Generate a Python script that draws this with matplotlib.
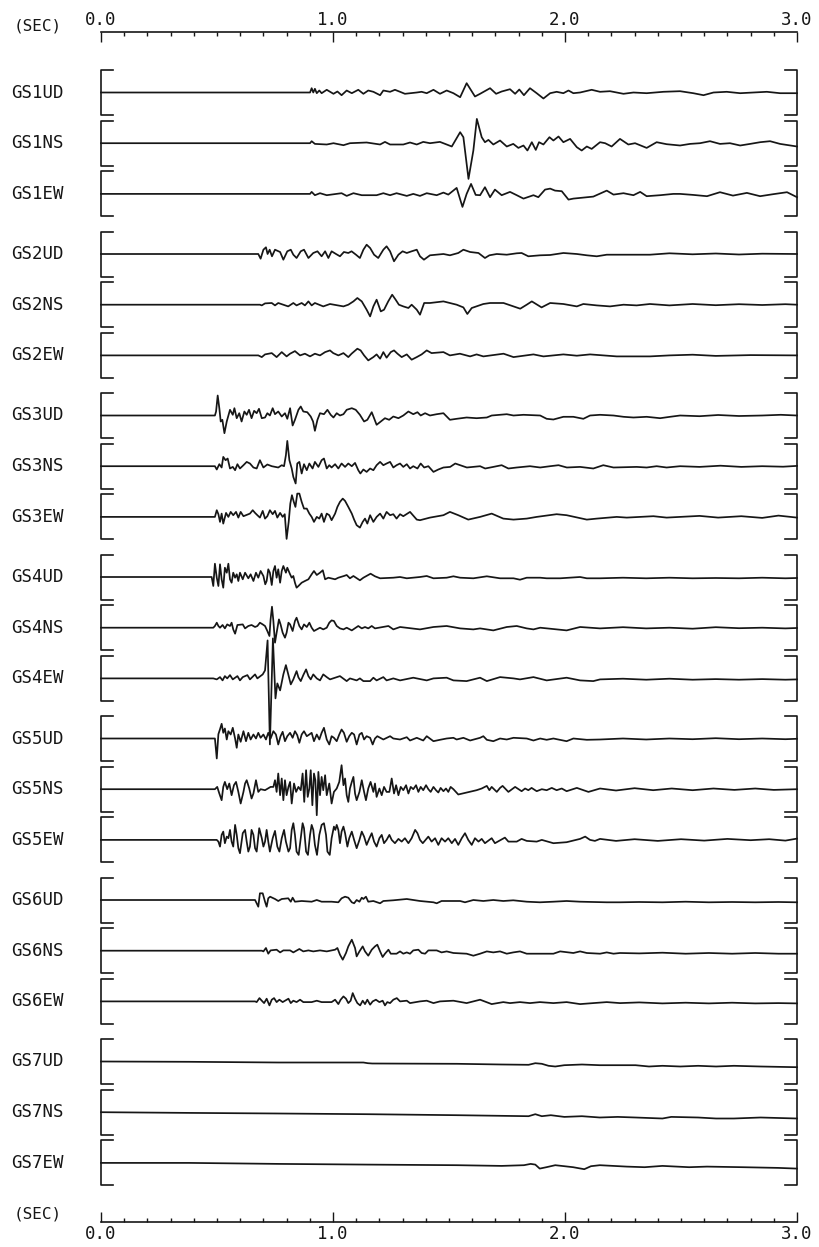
import numpy as np
import matplotlib
matplotlib.use("Agg")
import matplotlib.pyplot as plt
from matplotlib.ticker import MultipleLocator

# -------------------------------------------------
# Waveforms: (time [s], amplitude) picked off the record
# -------------------------------------------------
GS1UD = [(0.0, 0), (0.901, 0), (0.908, 4.3), (0.915, 0), (0.922, 3.7), (0.930, -0.7), (0.941, 2), (0.951, -0.7),
         (0.973, 2.7), (1.002, -1.3), (1.019, 1), (1.037, -2.7), (1.059, 2), (1.081, -0.7), (1.109, 2.7),
         (1.131, -1.3), (1.152, 2), (1.174, 0.7), (1.203, -2.7), (1.217, 2), (1.246, 0.7), (1.267, 2.7),
         (1.289, 0.7), (1.310, -1.3), (1.361, 0), (1.382, 0.7), (1.404, -0.7), (1.433, 2.7), (1.461, -1.3),
         (1.490, 2), (1.519, -0.7), (1.548, -4.7), (1.576, 9.3), (1.612, -4), (1.634, -1.3), (1.677, 4.3),
         (1.703, -1.3), (1.727, 1), (1.763, 3.3), (1.785, -1.3), (1.803, 3), (1.823, -2.7), (1.849, 4.3),
         (1.878, -0.7), (1.907, -6), (1.936, -0.7), (1.964, 0.7), (1.993, -0.7), (2.015, 2), (2.036, -0.7),
         (2.065, 0), (2.115, 2.7), (2.151, 0.7), (2.194, 1.3), (2.252, -1.3), (2.295, 0), (2.352, -0.7),
         (2.424, 0.7), (2.496, 1.3), (2.553, -0.7), (2.597, -2.7), (2.640, 0), (2.697, 0.7), (2.755, -0.7),
         (2.812, 0), (2.870, 0.7), (2.927, -0.7), (3.0, -0.7)]
GS1NS = [(0.0, 0), (0.901, 0), (0.908, 2), (0.922, -0.7), (0.973, -1.3), (1.002, 0), (1.045, -2), (1.073, 0),
         (1.145, 0.7), (1.203, -1.3), (1.224, 1.3), (1.246, -1.3), (1.303, -1.3), (1.332, 0.7), (1.361, -1.3),
         (1.389, 1.3), (1.418, 0), (1.461, 1.3), (1.490, -1.3), (1.512, -3.3), (1.548, 11), (1.562, 6),
         (1.584, -35.7), (1.605, -7.3), (1.620, 24.3), (1.641, 6), (1.655, 1), (1.670, 3.3), (1.691, -1.3),
         (1.720, 2.7), (1.749, -3.3), (1.777, -0.7), (1.799, -4.7), (1.821, -2.3), (1.838, -7.3), (1.857, 1),
         (1.874, -6.7), (1.888, 1), (1.907, -1.3), (1.933, 6), (1.950, 2.7), (1.972, 6.7), (1.993, 1),
         (2.022, 4.3), (2.051, -4), (2.072, -7.3), (2.094, -3.3), (2.115, -5.7), (2.151, 1), (2.173, 0),
         (2.201, -3.3), (2.237, 4.3), (2.273, -1.3), (2.302, 0), (2.352, -4.7), (2.395, 1), (2.438, -1),
         (2.496, -2.3), (2.539, -0.7), (2.582, 0), (2.625, 2), (2.668, -0.7), (2.711, 0), (2.755, -2.3),
         (2.798, -0.7), (2.841, 1), (2.884, 2), (2.927, -0.7), (3.0, -3.3)]
GS1EW = [(0.0, 0), (0.901, 0), (0.908, 2), (0.922, -1.3), (0.944, 0.7), (0.973, -1.3), (1.037, 0.7), (1.059, -2),
         (1.088, 0.7), (1.124, -1.3), (1.188, -1.3), (1.217, 0.7), (1.246, -1.3), (1.274, 0.7), (1.318, -2),
         (1.346, 0), (1.375, -2), (1.404, 0.7), (1.447, -1.3), (1.476, 1.3), (1.497, -0.7), (1.533, 6),
         (1.558, -13), (1.576, 0), (1.595, 10), (1.615, -1), (1.634, -1.3), (1.655, 6.7), (1.677, -3.3),
         (1.698, 4.3), (1.727, -1.3), (1.763, 2), (1.792, -1.3), (1.821, -4.7), (1.864, -1.3), (1.885, -3.3),
         (1.914, 4.3), (1.936, 5.3), (1.957, 3.3), (1.986, 2.7), (2.015, -5.7), (2.036, -4.7), (2.122, -2.7),
         (2.180, 3.3), (2.209, -0.7), (2.252, 0.7), (2.295, -1.3), (2.324, 2), (2.352, -2.3), (2.410, -1.3),
         (2.467, 0), (2.496, 0), (2.552, -1), (2.612, -2.3), (2.668, 1.7), (2.724, -1.7), (2.784, 1),
         (2.841, -2.3), (2.897, -0.3), (2.957, 1.7), (3.0, -3.3)]

GS2UD = [(0.0, 0), (0.678, 0), (0.688, -4.7), (0.700, 4.3), (0.711, 6.7), (0.718, 0), (0.727, 4.3), (0.737, -2.3),
         (0.750, 4.3), (0.772, 2), (0.786, -5.7), (0.803, 2.7), (0.818, 4.3), (0.829, -0.7), (0.843, -4),
         (0.861, 2.7), (0.875, 4.3), (0.894, -4), (0.915, 1), (0.933, 2.7), (0.951, -2.3), (0.966, 2.7),
         (0.980, -4), (0.994, 2.7), (1.013, 0), (1.030, -2.3), (1.047, 2), (1.066, 1), (1.080, 2.7),
         (1.099, -0.7), (1.116, -4), (1.131, 4.3), (1.145, 9.3), (1.160, 6), (1.177, -0.7), (1.195, -4),
         (1.217, 4.3), (1.231, 7.7), (1.246, 2.7), (1.263, -7.3), (1.282, -0.7), (1.300, 2.7), (1.318, 1),
         (1.339, 2.7), (1.361, 4.3), (1.375, -2.3), (1.392, -5.7), (1.418, -1.3), (1.476, 0), (1.504, -1.3),
         (1.540, 1), (1.562, 4.3), (1.591, 2), (1.627, 1), (1.655, -4), (1.674, -1.3), (1.706, 0),
         (1.749, -0.7), (1.792, 0.7), (1.813, 1), (1.842, -2.3), (1.893, -1.3), (1.936, -1), (1.993, 1),
         (2.051, 0), (2.094, -1.3), (2.137, -2.3), (2.180, -0.7), (2.281, -0.7), (2.366, -0.7), (2.45, 0.7),
         (2.55, -0.3), (2.65, 0.5), (2.75, -0.5), (2.85, 0.3), (3.0, 0)]
GS2NS = [(0.0, 0), (0.685, 0), (0.693, -0.7), (0.707, 1.3), (0.736, 1.7), (0.750, -0.7), (0.764, 1.7),
         (0.807, -1.7), (0.829, 1.7), (0.843, -0.7), (0.865, 1.7), (0.879, -0.7), (0.894, 3.3), (0.908, -0.7),
         (0.922, 1.7), (0.958, -1.7), (0.987, 0.7), (1.045, -1.7), (1.066, 0), (1.088, 3.3), (1.105, 6.7),
         (1.124, 3.3), (1.145, -5), (1.160, -11.7), (1.174, -1.7), (1.188, 5), (1.206, -6.7), (1.220, -5),
         (1.238, 3.3), (1.255, 10), (1.270, 5), (1.284, 0), (1.303, -1.7), (1.325, -3.3), (1.339, 0),
         (1.361, -5), (1.375, -10), (1.393, 1.7), (1.418, 1.7), (1.476, 3.3), (1.533, 0), (1.562, -2.7),
         (1.579, -9.3), (1.598, -3.3), (1.648, 0.7), (1.677, 1.7), (1.735, 1.7), (1.778, -1.7), (1.807, -4),
         (1.835, 0), (1.857, 3.3), (1.899, -2.7), (1.936, 1.7), (1.993, 0.7), (2.051, -1.7), (2.079, 0.7),
         (2.137, -0.7), (2.194, -1.7), (2.252, 0), (2.309, -0.7), (2.366, 0.7), (2.45, -0.7), (2.55, 0.7),
         (2.65, -0.5), (2.75, 0.5), (2.85, -0.3), (2.95, 0.5), (3.0, 0)]
GS2EW = [(0.0, 0), (0.678, 0), (0.693, -1.7), (0.707, 1), (0.736, 2.3), (0.757, -1.7), (0.779, 3.3), (0.800, -1),
         (0.815, 1.7), (0.836, 4.3), (0.858, 0), (0.879, 1.7), (0.901, -1), (0.922, 1.7), (0.944, 0),
         (0.966, 3.3), (0.987, 5), (1.001, 2.3), (1.023, 0), (1.045, 2.3), (1.066, -1.7), (1.080, 1.7),
         (1.105, 6.7), (1.119, 5), (1.134, 0), (1.152, -5), (1.174, -1.7), (1.188, 1), (1.203, -3.3),
         (1.217, 3.3), (1.231, -2.3), (1.249, 3.3), (1.263, 5), (1.278, 1.7), (1.296, -1.7), (1.318, 1),
         (1.339, -4.3), (1.361, -1.7), (1.382, 1), (1.404, 5), (1.425, 2.3), (1.476, 3.3), (1.504, 0),
         (1.547, 1.7), (1.591, -1), (1.619, 1), (1.648, -1), (1.735, 1.7), (1.778, -1.7), (1.864, 1),
         (1.907, -1), (1.993, 1), (2.051, -0.3), (2.108, 1), (2.223, -1), (2.366, -1), (2.45, 0), (2.55, 0.7),
         (2.65, -0.5), (2.8, 0.3), (3.0, 0)]

GS3UD = [(0.0, 0), (0.491, 0), (0.496, 4), (0.503, 20), (0.510, 7.3), (0.516, -6), (0.523, -4.3), (0.532, -17.7),
         (0.542, -6), (0.556, 5.7), (0.568, 0.7), (0.575, 7.3), (0.585, -2.7), (0.596, 2.3), (0.606, -6),
         (0.618, 4), (0.628, 0.7), (0.638, 5.7), (0.649, -2.7), (0.660, 4.7), (0.671, 2.3), (0.681, 6.7),
         (0.693, -2.7), (0.707, -2), (0.717, 2.3), (0.728, 0), (0.740, 7.3), (0.750, 1.3), (0.764, 4),
         (0.779, -1), (0.793, 2.3), (0.803, -3.3), (0.815, 7.3), (0.826, -10), (0.836, -4.3), (0.851, 5.7),
         (0.861, 9), (0.872, 4), (0.889, 3.3), (0.904, -1), (0.914, -6), (0.922, -15.3), (0.933, -4.3),
         (0.944, 2.3), (0.961, 1.3), (0.976, 5.7), (0.990, 0.7), (1.002, -2), (1.016, 2.3), (1.030, 0),
         (1.045, 1.3), (1.059, 5.7), (1.081, 7.3), (1.098, 5.7), (1.116, 0.7), (1.134, -6), (1.148, -4.3),
         (1.167, 3.3), (1.188, -9.3), (1.206, -6), (1.224, -2.7), (1.242, -4.3), (1.260, -1), (1.282, -2.7),
         (1.303, 0), (1.325, 4), (1.346, 1.3), (1.364, 3.3), (1.378, 0), (1.397, 2.3), (1.418, 0),
         (1.447, 1.3), (1.476, 2.3), (1.504, -4.3), (1.533, -3.3), (1.576, -2), (1.619, -2.7), (1.663, -2),
         (1.684, 0), (1.749, 1.3), (1.778, 0), (1.821, 0.7), (1.893, 0), (1.921, -3.3), (1.950, -4),
         (1.993, -1.3), (2.036, -1.3), (2.079, -3.3), (2.108, 0), (2.151, 0.7), (2.209, 0), (2.252, -1.3),
         (2.295, -2), (2.352, -1.3), (2.410, -2.7), (2.453, -1.3), (2.496, 0), (2.58, -0.7), (2.66, 0.5),
         (2.75, -0.5), (2.85, 0), (2.93, 0.7), (3.0, 0)]
GS3NS = [(0.0, 0), (0.491, 0), (0.499, -3.3), (0.510, 2), (0.520, -1.3), (0.527, 9.3), (0.537, 6), (0.546, 7.7),
         (0.556, -2.3), (0.568, -0.7), (0.578, -4), (0.588, 2), (0.599, -2.3), (0.614, 1), (0.628, 4.3),
         (0.642, 2.7), (0.657, -1.3), (0.671, -2.3), (0.685, 6), (0.700, -1.3), (0.717, 1.7), (0.736, 0),
         (0.764, -1.3), (0.779, 1), (0.789, 0), (0.797, 11), (0.803, 25.3), (0.812, 6), (0.822, -2.3),
         (0.829, -10.7), (0.839, -17.3), (0.846, 2.7), (0.855, 4.3), (0.865, -7.3), (0.875, 2), (0.887, -4),
         (0.898, 2.7), (0.912, -2.3), (0.922, 4.3), (0.937, -0.7), (0.951, 6), (0.961, 7.7), (0.973, -2.3),
         (0.984, 1), (0.994, -1.3), (1.009, 2), (1.023, -2.3), (1.037, 2.7), (1.052, -0.7), (1.066, 2.7),
         (1.081, 0), (1.095, 3.3), (1.109, -4), (1.118, -7.3), (1.131, -3.3), (1.145, -5.7), (1.160, -2.3),
         (1.174, -4), (1.188, 1), (1.203, 4.3), (1.217, 1), (1.231, 2.7), (1.246, 4.3), (1.260, -1.3),
         (1.274, 1), (1.289, 2.7), (1.303, -0.7), (1.318, 2), (1.332, -2.3), (1.346, 0), (1.364, -2.3),
         (1.378, 2.7), (1.393, -1.3), (1.411, 0), (1.433, -5.7), (1.454, -3.3), (1.476, -1.3), (1.505, -0.7),
         (1.527, 2.7), (1.548, 1), (1.577, -1.3), (1.634, 0), (1.656, -2.3), (1.691, -0.7), (1.727, 1),
         (1.756, -2.3), (1.792, -1.3), (1.849, 0), (1.893, -1.3), (1.936, 0), (1.972, 1), (2.008, -1.3),
         (2.065, -0.7), (2.122, -2.3), (2.165, 1), (2.209, -1.3), (2.309, -0.7), (2.352, -1.3), (2.395, 0),
         (2.438, -1.3), (2.496, 0), (2.58, -0.7), (2.67, 0.5), (2.76, -0.7), (2.85, 0), (2.94, -0.5), (3.0, 0.3)]
GS3EW = [(0.0, 0), (0.491, 0), (0.499, 6.7), (0.506, 2.7), (0.513, -5), (0.520, 3.3), (0.527, -6.7), (0.539, 4),
         (0.549, 0), (0.559, 5), (0.570, 1.7), (0.582, 5), (0.592, -0.7), (0.602, 5), (0.614, 0.7), (0.642, 3.3),
         (0.654, 6.7), (0.664, 4), (0.674, 1.7), (0.685, -0.7), (0.697, 6), (0.707, -1.7), (0.717, 0.7),
         (0.728, 6.7), (0.740, 2.7), (0.750, 6), (0.760, -0.7), (0.772, 4), (0.783, 0), (0.792, 2.7),
         (0.800, -22), (0.809, -5), (0.816, 13.3), (0.823, 21.7), (0.831, 15), (0.838, 10), (0.846, 23.3),
         (0.855, 23.3), (0.865, 15), (0.875, 8.3), (0.887, 8.3), (0.898, 3.3), (0.908, 0), (0.918, -5),
         (0.930, 0), (0.941, -1.7), (0.951, 3.3), (0.961, -5), (0.973, 3.3), (0.984, 1.7), (0.994, -3.3),
         (1.009, 3.3), (1.019, 10), (1.030, 15), (1.042, 18.3), (1.052, 16), (1.066, 10), (1.081, 3.3),
         (1.091, -2.7), (1.102, -8.3), (1.116, -10.7), (1.128, -5), (1.138, -1.7), (1.148, -6.7), (1.160, 1.7),
         (1.174, -5), (1.188, 0), (1.203, 3.3), (1.217, -1.7), (1.231, 5), (1.246, 1.7), (1.260, 2.7),
         (1.274, -1.7), (1.289, 2.7), (1.303, 0.7), (1.332, 5), (1.361, -2.7), (1.375, -3.3), (1.418, -0.7),
         (1.476, 1.7), (1.504, 5), (1.540, 1.7), (1.583, -2.7), (1.634, 0), (1.684, 3.3), (1.734, -1.7),
         (1.778, -2.7), (1.835, -1.7), (1.878, 0), (1.964, 2.7), (2.007, 1.7), (2.094, -2.7), (2.137, -1.7),
         (2.223, 0), (2.266, -0.7), (2.381, 0.7), (2.438, -0.7), (2.496, 0), (2.58, 1), (2.66, -0.7),
         (2.76, 0.7), (2.85, -1), (2.92, 1.3), (3.0, -0.7)]

GS4UD = [(0.0, 0), (0.477, 0), (0.484, -9), (0.491, 13.3), (0.499, -0.7), (0.506, -9), (0.513, 12.7),
         (0.520, -2.3), (0.527, -10.7), (0.534, 9.3), (0.542, 4.3), (0.549, 13.3), (0.556, -2.3), (0.563, -5.7),
         (0.570, 4.3), (0.578, -0.7), (0.585, 2.7), (0.592, -4), (0.599, 4.3), (0.611, -2.3), (0.621, 4.3),
         (0.635, -1.3), (0.645, 2.7), (0.657, -4), (0.668, 4.3), (0.678, -0.7), (0.688, 6), (0.700, 1),
         (0.708, -7.3), (0.714, -4), (0.721, 7.7), (0.728, 4.3), (0.736, -8), (0.743, 6), (0.750, 11),
         (0.757, -0.7), (0.764, 7.7), (0.772, -5.7), (0.779, 6), (0.786, 11), (0.797, 4.3), (0.803, 9.3),
         (0.815, 2.7), (0.822, -0.7), (0.829, 1), (0.836, -5.7), (0.843, -10.7), (0.851, -9), (0.865, -5.7),
         (0.879, -4), (0.894, -2.3), (0.908, 2.7), (0.918, 6), (0.930, 2), (0.944, 4.3), (0.956, 6.7),
         (0.966, -2.3), (0.980, -0.7), (1.009, -2.3), (1.023, -0.7), (1.047, 1), (1.059, 2), (1.073, -1.3),
         (1.088, 1), (1.116, -3.3), (1.131, -0.7), (1.162, 3.3), (1.181, 0.7), (1.203, -1.3), (1.260, -0.7),
         (1.289, 0), (1.318, -1.3), (1.375, 0), (1.404, 1), (1.433, -1.3), (1.490, -0.7), (1.519, 0.7),
         (1.548, -0.7), (1.605, -1.3), (1.663, 0.7), (1.720, -1.3), (1.778, -1.3), (1.806, -2.7), (1.835, -0.7),
         (1.893, -0.7), (1.921, -1.3), (1.979, -1.3), (2.065, 0), (2.094, -1.3), (2.151, -1.3), (2.25, -0.7),
         (2.35, -1.3), (2.45, -0.7), (2.55, -1.3), (2.65, -1), (2.75, -1.3), (2.85, -0.7), (2.95, -1.3),
         (3.0, -1)]
GS4NS = [(0.0, 0), (0.484, 0), (0.491, 1.7), (0.499, 5), (0.506, 1.7), (0.513, 0), (0.524, 2.7), (0.534, -0.7),
         (0.544, 3.3), (0.556, 1.7), (0.563, 5), (0.570, -1.7), (0.578, -6), (0.588, 2.7), (0.611, 3.3),
         (0.621, -0.7), (0.635, 1.7), (0.649, 2.7), (0.664, 0.7), (0.674, 1.7), (0.685, 5), (0.697, 3.3),
         (0.707, 1.7), (0.717, -3.3), (0.726, -8.3), (0.731, 8.3), (0.737, 21), (0.743, 6.7), (0.750, -15),
         (0.757, -5), (0.767, 8.3), (0.774, 3.3), (0.783, -5), (0.793, -10), (0.800, -5), (0.808, 5),
         (0.815, 3.3), (0.826, -3.3), (0.836, 6.7), (0.843, 10), (0.855, 1.7), (0.865, -1.7), (0.875, 3.3),
         (0.887, 0.7), (0.898, 5), (0.908, 0), (0.918, -3.3), (0.944, 0), (0.958, -1.7), (0.973, 0),
         (0.984, 5), (0.994, 7.3), (1.004, 6.7), (1.016, 1.7), (1.030, -0.7), (1.045, -1.7), (1.059, 0),
         (1.081, -2.7), (1.109, 1.7), (1.124, -0.7), (1.138, 0.7), (1.152, -0.7), (1.167, 1.7), (1.181, -0.7),
         (1.239, 1.7), (1.260, -1.7), (1.289, 0.7), (1.375, -1.7), (1.433, 0.7), (1.490, 1.7), (1.548, -0.7),
         (1.605, -1.7), (1.634, -0.7), (1.691, -2.7), (1.749, 0.7), (1.792, 1.7), (1.835, -0.7), (1.864, -1.7),
         (1.893, 0), (2.007, -2.7), (2.065, 0.7), (2.151, -0.7), (2.25, 0.5), (2.35, -0.7), (2.45, 0),
         (2.55, -1), (2.65, 0.5), (2.75, -0.5), (2.85, 0), (2.95, -0.7), (3.0, -0.3)]
GS4EW = [(0.0, 0), (0.484, 0), (0.499, -1), (0.513, 1.3), (0.524, -2), (0.534, 2.3), (0.544, 0), (0.556, 3.3),
         (0.568, -1), (0.588, 2.3), (0.599, -2), (0.611, 1.3), (0.631, 3.3), (0.642, -1), (0.664, 4),
         (0.674, 0), (0.697, 4), (0.707, 8), (0.718, 38), (0.728, -66), (0.741, 40), (0.752, -20),
         (0.760, -5), (0.772, -12), (0.786, 4), (0.797, 13.3), (0.808, 3.3), (0.818, -6), (0.829, -1),
         (0.843, 7.3), (0.851, 1), (0.861, -2.7), (0.872, 3.3), (0.884, 9), (0.894, 2.3), (0.904, -1),
         (0.915, 4), (0.930, 0), (0.944, -2), (0.958, 4), (0.973, 1.3), (0.987, -1), (1.030, 2.3),
         (1.059, -2.7), (1.073, 0), (1.102, -2), (1.116, 0), (1.131, -2.7), (1.160, -2.7), (1.174, 0.7),
         (1.188, -2), (1.217, 1.3), (1.231, -2), (1.260, 0), (1.289, -2), (1.346, 0.7), (1.404, -2),
         (1.433, 0), (1.490, 0.7), (1.519, -2), (1.576, -2.7), (1.634, 0.7), (1.663, -2.7), (1.720, 1.3),
         (1.778, 0), (1.806, -1), (1.864, 1.3), (1.921, -2), (2.007, 0.7), (2.065, -2), (2.122, -2.7),
         (2.151, -1), (2.25, -0.3), (2.35, -1.3), (2.45, -0.3), (2.55, -1.3), (2.65, -0.7), (2.75, -1.3),
         (2.85, -0.7), (2.95, -1.3), (3.0, -1)]

GS5UD = [(0.0, 0), (0.491, 0), (0.499, -20), (0.506, 4.3), (0.513, 9.3), (0.520, 14.7), (0.527, 5.7),
         (0.534, 10), (0.542, -1), (0.549, 7.3), (0.559, 4), (0.568, 10.7), (0.578, 0), (0.585, -9.3),
         (0.592, 4), (0.602, -3.3), (0.614, 7.3), (0.625, -2.7), (0.635, 5.7), (0.645, -1), (0.657, 4),
         (0.668, 0), (0.678, 5.7), (0.688, 0.7), (0.700, 4), (0.711, -1), (0.721, 5.7), (0.731, 0),
         (0.743, 7.3), (0.754, 4), (0.764, -6), (0.774, 2.3), (0.783, 6.7), (0.793, -2.7), (0.803, 2.3),
         (0.815, 5.7), (0.826, 0.7), (0.836, 7.3), (0.846, 3.3), (0.855, -4.3), (0.865, 4), (0.875, 7.3),
         (0.887, 2.3), (0.898, 4), (0.908, 5.7), (0.918, -2.7), (0.930, 4), (0.941, -1), (0.951, 5.7),
         (0.961, 10.7), (0.973, -1), (0.984, -6), (0.994, 2.3), (1.004, 0.7), (1.016, -2.7), (1.027, 4),
         (1.037, 9), (1.047, 5.7), (1.059, -3.3), (1.070, 2.3), (1.081, 5.7), (1.091, 4), (1.102, -6),
         (1.114, 4), (1.124, 5.7), (1.134, -1), (1.145, 2.3), (1.160, 0.7), (1.171, -6), (1.181, 0),
         (1.191, 2.3), (1.217, -1), (1.246, 2.3), (1.260, 0), (1.289, -1), (1.318, 1.3), (1.332, -2),
         (1.361, 0.7), (1.389, -2), (1.404, 2.3), (1.433, -2.7), (1.461, -1.3), (1.490, 0), (1.519, 0.7),
         (1.533, -1), (1.562, 0.7), (1.591, -2), (1.634, 0.7), (1.648, 2.3), (1.663, -1.3), (1.691, -2.7),
         (1.720, 0), (1.749, -1), (1.778, 0.7), (1.835, 0), (1.864, -2), (1.893, 0), (1.921, -1.3),
         (1.950, 0), (2.007, -2.7), (2.036, 0), (2.094, -1.3), (2.151, -1), (2.25, 0), (2.35, -1), (2.45, 0),
         (2.55, -0.7), (2.65, 0.3), (2.75, -0.7), (2.85, 0), (2.95, -0.7), (3.0, -0.3)]
GS5NS = [(0.0, 0), (0.491, 0), (0.501, 2.3), (0.510, -4.3), (0.520, -11), (0.527, 2.3), (0.534, 7.3), (0.544, 0),
         (0.553, 5.7), (0.563, -6), (0.573, 4), (0.582, 7.3), (0.592, -2.7), (0.602, -14.3), (0.614, -2.7),
         (0.621, 5.7), (0.628, 9), (0.639, 0.7), (0.649, -9.3), (0.657, -4.3), (0.668, 9), (0.678, -2.7),
         (0.688, 0), (0.707, -1), (0.731, 2.3), (0.743, 2.3), (0.750, 9), (0.757, -2.7), (0.764, 15.7),
         (0.772, -6), (0.779, 10.7), (0.786, -11), (0.793, 9), (0.800, -6), (0.808, 2.3), (0.815, 7.3),
         (0.822, -14.3), (0.832, 5.7), (0.841, -2.7), (0.851, 2.3), (0.861, -1), (0.869, 15.7), (0.876, -12.7),
         (0.884, 19), (0.891, -7.7), (0.898, 0.7), (0.904, 19), (0.911, -16), (0.918, 15.7), (0.924, 9),
         (0.930, -26), (0.937, 17.3), (0.944, -6), (0.951, 12.3), (0.958, -1), (0.966, 14), (0.973, -6),
         (0.984, 5.7), (0.994, -14.3), (1.004, -2.7), (1.016, 0.7), (1.027, 7.3), (1.037, 24), (1.045, 4),
         (1.052, 10.7), (1.059, -6), (1.066, -12.7), (1.073, 0.7), (1.081, 7.3), (1.088, 12.3), (1.095, -4.3),
         (1.102, -11), (1.114, -2.7), (1.124, 9), (1.134, -2.7), (1.142, -11), (1.152, 0.7), (1.162, 7.3),
         (1.174, -2.7), (1.181, 5.7), (1.188, -7.7), (1.200, 0.7), (1.210, -6), (1.220, 2.3), (1.231, -2.7),
         (1.243, -2.7), (1.253, 10.7), (1.263, -4.3), (1.272, 4), (1.282, -6), (1.292, 2.3), (1.303, -1),
         (1.315, 4), (1.325, -4.3), (1.335, 2.3), (1.346, 0), (1.358, 4), (1.368, -2.7), (1.378, 2.3),
         (1.389, -1), (1.401, 4), (1.411, 0), (1.421, -2.7), (1.433, 2.3), (1.444, -1), (1.454, -3.3),
         (1.464, 1.3), (1.476, -2), (1.487, 0.7), (1.497, -2.7), (1.507, 2.3), (1.519, 0), (1.540, -5.3),
         (1.576, -3.3), (1.619, -1), (1.641, 0.7), (1.663, 3.3), (1.674, -1), (1.684, 2.3), (1.706, -2.7),
         (1.720, 1.3), (1.731, 3.3), (1.756, -2.7), (1.785, 2.3), (1.813, -2), (1.828, 0.7), (1.842, -1),
         (1.856, 1.3), (1.878, -2), (1.900, 0), (1.921, -1), (1.943, 1.3), (1.964, -1), (1.986, 0.7),
         (2.007, -2), (2.051, 1.3), (2.101, -2.7), (2.151, 0.7), (2.22, -1.3), (2.30, 1), (2.38, -1),
         (2.46, 0.7), (2.55, -1), (2.64, 0.7), (2.73, -0.7), (2.82, 0.7), (2.90, -0.7), (3.0, 0)]
GS5EW = [(0.0, 0), (0.499, 0), (0.506, -1.7), (0.513, -6.7), (0.520, 5), (0.527, 8.3), (0.534, -3.3),
         (0.542, 3.3), (0.549, 1.7), (0.556, 10), (0.563, -1.7), (0.570, -6.7), (0.578, 15), (0.585, 5),
         (0.592, -8.3), (0.599, -13.3), (0.611, 6.7), (0.621, 10), (0.628, -1.7), (0.635, -11.7), (0.642, -6.7),
         (0.649, 10), (0.657, 5), (0.664, -8.3), (0.671, -11.7), (0.682, 11.7), (0.693, 1.7), (0.700, -6.7),
         (0.707, -1.7), (0.714, 10), (0.721, -1.7), (0.728, -11.7), (0.740, 1.7), (0.750, 9), (0.760, -6.7),
         (0.769, -11.7), (0.779, 1.7), (0.789, 10), (0.797, -1.7), (0.808, -11.7), (0.815, -8.3), (0.822, 10),
         (0.829, 16.7), (0.836, 5), (0.843, -11.7), (0.852, -15), (0.861, 1.7), (0.869, 16.7), (0.875, 11.7),
         (0.884, -11.7), (0.892, -15), (0.901, 5), (0.908, 15), (0.915, 10), (0.922, -5), (0.931, -15),
         (0.941, 5), (0.951, 15), (0.961, 16.7), (0.970, 5), (0.976, -11.7), (0.986, -15), (0.994, 1.7),
         (1.004, 13.3), (1.010, 10), (1.016, 15), (1.023, 10), (1.030, -3.3), (1.037, 8.3), (1.045, 13.3),
         (1.052, 6.7), (1.062, -6.7), (1.070, 1.7), (1.081, 8.3), (1.091, 0), (1.102, -8.3), (1.114, 0),
         (1.124, 8.3), (1.134, 3.3), (1.145, -5), (1.157, 1.7), (1.167, 6.7), (1.177, -1.7), (1.188, -6.7),
         (1.200, 1.7), (1.210, 5), (1.220, -3.3), (1.231, 0), (1.243, 5), (1.253, 0), (1.267, -3.3),
         (1.282, 1), (1.296, -1.7), (1.310, 1.7), (1.325, -3.3), (1.339, 1.7), (1.354, 10), (1.364, 6.7),
         (1.375, 0), (1.387, -3.3), (1.411, 3.3), (1.425, -1.7), (1.440, 1.7), (1.454, -5), (1.468, 1.7),
         (1.483, -1.7), (1.497, 1.7), (1.512, -3.3), (1.526, 1), (1.540, -5), (1.555, 1.7), (1.569, 6.7),
         (1.583, 0), (1.598, -5), (1.612, 1.7), (1.627, -1.7), (1.641, 1), (1.655, -3.3), (1.684, 1.7),
         (1.698, -3.3), (1.741, 2.3), (1.756, -1.7), (1.792, -1.7), (1.813, 1), (1.835, -1), (1.878, -1.7),
         (1.900, 0), (1.950, -3.3), (2.007, -2.3), (2.065, 1), (2.087, 3.3), (2.108, 0), (2.129, -1),
         (2.151, 1), (2.22, -1), (2.30, 0.7), (2.40, -1), (2.50, 0.7), (2.60, -0.7), (2.70, 1), (2.80, -0.3),
         (2.88, 0.7), (2.95, -0.7), (3.0, 1.3)]

GS6UD = [(0.0, 0), (0.664, 0), (0.671, -3.3), (0.678, -6.7), (0.685, 6.7), (0.697, 6.7), (0.707, -1.7),
         (0.714, -6.7), (0.721, 1.7), (0.729, 3.3), (0.750, 1), (0.764, -1), (0.779, 1), (0.807, 1.7),
         (0.818, -1.7), (0.826, 2.3), (0.836, -1.7), (0.865, -1), (0.908, -1.7), (0.930, 0), (0.951, -1.7),
         (0.994, -1.7), (1.023, -2.3), (1.037, 1.7), (1.052, 3.3), (1.066, 2.3), (1.081, -2.3), (1.091, -3.3),
         (1.102, 0), (1.114, -1.7), (1.124, 2.3), (1.131, 1), (1.142, 3.3), (1.152, -1.7), (1.174, -1),
         (1.203, -3.3), (1.217, -1), (1.260, -0.3), (1.318, 1), (1.375, -1), (1.433, -2.3), (1.447, -3.3),
         (1.468, -1), (1.548, -1), (1.569, -2.3), (1.605, 0), (1.648, -1), (1.691, 0), (1.734, -1),
         (1.777, -0.3), (1.835, -1.7), (1.892, -2.3), (1.950, -1.7), (2.007, -1), (2.065, -1.7), (2.180, -2.3),
         (2.237, -2.3), (2.32, -2), (2.42, -2.3), (2.52, -1.7), (2.62, -2.3), (2.72, -2), (2.82, -2.3),
         (2.92, -2), (3.0, -2.3)]
GS6NS = [(0.0, 0), (0.693, 0), (0.700, -0.7), (0.711, 2.7), (0.721, -3), (0.731, 0.3), (0.757, 1), (0.772, -1.7),
         (0.786, 0.3), (0.815, 0.3), (0.829, -1.7), (0.855, 1.7), (0.872, -0.7), (0.894, 0.3), (0.915, -0.7),
         (0.944, 0.3), (0.973, -0.7), (1.009, 1), (1.019, 2.7), (1.030, -4), (1.042, -9), (1.056, -2.3),
         (1.066, 4.3), (1.081, 11), (1.095, 2.7), (1.102, -5.7), (1.114, -0.7), (1.128, 4.3), (1.138, -0.7),
         (1.152, -5), (1.167, 1), (1.181, 4.3), (1.191, 6), (1.203, -0.7), (1.214, -6.3), (1.224, -3),
         (1.239, 1), (1.249, -3), (1.274, -3), (1.289, -0.7), (1.303, -3), (1.318, -1.7), (1.332, -3),
         (1.346, 0.3), (1.368, 1), (1.382, -2.3), (1.397, -3), (1.411, 0.3), (1.447, 0.3), (1.468, -1.7),
         (1.490, -0.7), (1.519, -2.3), (1.576, -3), (1.605, -5), (1.634, -3), (1.663, -0.7), (1.691, -1.7),
         (1.720, -0.7), (1.749, -3), (1.777, -1.7), (1.806, -0.7), (1.835, -3), (1.892, -3), (1.950, -3),
         (1.979, -0.7), (2.036, -2.3), (2.065, -0.7), (2.094, -2.3), (2.151, -3), (2.180, -1.7), (2.209, -3),
         (2.237, -2.3), (2.32, -2.7), (2.42, -2), (2.52, -3), (2.62, -2.3), (2.72, -3), (2.82, -2.3),
         (2.92, -3), (3.0, -3)]
GS6EW = [(0.0, 0), (0.664, 0), (0.671, -0.7), (0.683, 3.3), (0.693, 0.7), (0.703, -1.7), (0.714, 2.7),
         (0.726, -4), (0.736, 1.7), (0.746, 3.3), (0.757, -0.7), (0.769, 1.7), (0.783, -0.7), (0.808, 2.7),
         (0.818, -1.7), (0.829, 0.7), (0.843, -0.7), (0.858, 1.7), (0.872, -0.7), (0.908, -0.7), (0.930, 0.7),
         (0.951, -0.7), (0.994, -0.7), (1.009, 1.7), (1.023, -2.7), (1.033, 1.7), (1.045, 5), (1.056, 2.7),
         (1.066, -1.7), (1.076, 0.7), (1.085, 8.3), (1.095, 2.7), (1.105, -1.7), (1.117, -4), (1.128, 0.7),
         (1.138, -2.7), (1.148, 1.7), (1.160, -3.3), (1.171, 0), (1.185, 1.7), (1.200, -0.7), (1.214, 0.7),
         (1.224, -4), (1.234, -0.7), (1.246, -1.7), (1.260, 1.7), (1.275, 3.3), (1.289, 0), (1.318, 0.7),
         (1.332, -1.7), (1.375, 0), (1.404, 0.7), (1.433, -1.7), (1.461, 0), (1.519, 0.7), (1.576, -1.7),
         (1.634, 1.7), (1.684, -2.7), (1.734, -0.7), (1.763, -1.7), (1.806, -0.7), (1.849, -1.7), (1.892, -0.7),
         (1.950, -1.7), (2.007, -0.7), (2.065, -2.7), (2.122, -1.7), (2.180, -0.7), (2.237, -1.7), (2.32, -1),
         (2.42, -2), (2.52, -1.3), (2.62, -2), (2.72, -1.3), (2.82, -2), (2.92, -1.7), (3.0, -2)]

GS7UD = [(0.0, 0), (0.38, -0.3), (0.765, -1), (1.131, -1), (1.15, -1.7), (1.169, -2), (1.535, -2.3), (1.727, -3),
         (1.843, -3.3), (1.872, -1.7), (1.900, -2.3), (1.929, -4.3), (1.958, -5), (1.997, -3.7), (2.073, -3),
         (2.150, -3.7), (2.304, -3.7), (2.362, -5), (2.420, -4.3), (2.497, -5), (2.574, -4.3), (2.651, -5),
         (2.728, -4.3), (2.843, -5), (3.0, -5.7)]
GS7NS = [(0.0, 0), (0.38, -0.7), (0.765, -1.3), (1.15, -2), (1.535, -3), (1.843, -4), (1.872, -2), (1.900, -4),
         (1.939, -3), (1.997, -4.7), (2.073, -4), (2.150, -5.3), (2.227, -4.7), (2.304, -5.3), (2.420, -6.3),
         (2.458, -4.7), (2.574, -5.3), (2.651, -6.3), (2.728, -6.3), (2.843, -5.3), (3.0, -6.3)]
GS7EW = [(0.0, 0), (0.38, 0), (0.765, -1), (1.15, -1.7), (1.535, -2.3), (1.727, -3), (1.823, -2.3), (1.852, -1),
         (1.872, -1.7), (1.891, -5.7), (1.920, -4.3), (1.958, -2.3), (1.997, -3.3), (2.035, -4.3), (2.083, -6.3),
         (2.112, -3.3), (2.150, -2.3), (2.266, -3.7), (2.343, -4.3), (2.420, -3), (2.535, -4.3), (2.612, -3.7),
         (2.766, -4.3), (2.920, -5), (3.0, -5.7)]

STATIONS = ["GS1", "GS2", "GS3", "GS4", "GS5", "GS6", "GS7"]
COMPONENTS = ["UD", "NS", "EW"]
TRACES = [GS1UD, GS1NS, GS1EW, GS2UD, GS2NS, GS2EW, GS3UD, GS3NS, GS3EW,
          GS4UD, GS4NS, GS4EW, GS5UD, GS5NS, GS5EW, GS6UD, GS6NS, GS6EW,
          GS7UD, GS7NS, GS7EW]
MAJOR_TICKS = [0.0, 1.0, 2.0, 3.0]
TICK_LABELS = ["0.0", "1.0", "2.0", "3.0"]
T_MAX = 3.0

# -------------------------------------------------
# Layout (pixels of the 819 x 1247 sheet)
# -------------------------------------------------
W, H = 819, 1247
X0, X1 = 101, 797          # time axis 0.0 .. 3.0
Y_TOP, Y_BOT = 32, 1222    # upper / lower time scale
FIRST_TRACE = 92.5
GROUP_STEP = 161.5
COMP_STEP = 50.7
BRACKET_HALF = 22.5
BRACKET_TICK = 12
LABEL_X = 37
INK = "#161616"
FONT = "DejaVu Sans Mono"

fig = plt.figure(figsize=(W / 100, H / 100), dpi=100)
fig.patch.set_facecolor("white")
ax = fig.add_axes([X0 / W, 1 - Y_BOT / H, (X1 - X0) / W, (Y_BOT - Y_TOP) / H])
ax.set_xlim(0, T_MAX)
ax.set_ylim(Y_BOT - Y_TOP, 0)   # y measured in pixels below the upper scale

tick_dt = BRACKET_TICK / (X1 - X0) * T_MAX
for i, data in enumerate(TRACES):
    g, c = divmod(i, 3)
    base = FIRST_TRACE - Y_TOP + g * GROUP_STEP + c * COMP_STEP
    t = np.array([p[0] for p in data])
    a = np.array([p[1] for p in data])
    ax.plot(t, base - a, color=INK, lw=1.25, solid_joinstyle="round", clip_on=False)

    # "[" and "]" brackets
    ax.plot([tick_dt, 0, 0, tick_dt],
            [base - BRACKET_HALF, base - BRACKET_HALF, base + BRACKET_HALF, base + BRACKET_HALF],
            color=INK, lw=1.2, clip_on=False)
    ax.plot([T_MAX - tick_dt, T_MAX, T_MAX, T_MAX - tick_dt],
            [base - BRACKET_HALF, base - BRACKET_HALF, base + BRACKET_HALF, base + BRACKET_HALF],
            color=INK, lw=1.2, clip_on=False)

    ax.text((LABEL_X - X0) / (X1 - X0), base, STATIONS[g] + COMPONENTS[c],
            transform=ax.get_yaxis_transform(), ha="center", va="center",
            fontsize=12.5, family=FONT, color=INK)

# -------------------------------------------------
# Time scales (top and bottom)
# -------------------------------------------------
for side in ["left", "right"]:
    ax.spines[side].set_visible(False)
for side in ["top", "bottom"]:
    ax.spines[side].set_linewidth(1.2)
    ax.spines[side].set_color(INK)

ax.set_yticks([])
ax.set_xticks(MAJOR_TICKS)
ax.set_xticklabels(TICK_LABELS)
ax.xaxis.set_minor_locator(MultipleLocator(0.1))
ax.tick_params(axis="x", which="both", direction="in", top=True, bottom=True,
               labeltop=True, labelbottom=True, color=INK, width=1.0)
ax.tick_params(axis="x", which="major", length=7.5, pad=2, labelsize=12.5, labelcolor=INK)
ax.tick_params(axis="x", which="minor", length=3)
for lab in ax.get_xticklabels():
    lab.set_family(FONT)

fig.text(38 / W, 1 - 26 / H, "(SEC)", ha="center", va="center", fontsize=11.5, family=FONT, color=INK)
fig.text(38 / W, 1 - 1214 / H, "(SEC)", ha="center", va="center", fontsize=11.5, family=FONT, color=INK)

fig.savefig("out.png", dpi=100, facecolor="white")
